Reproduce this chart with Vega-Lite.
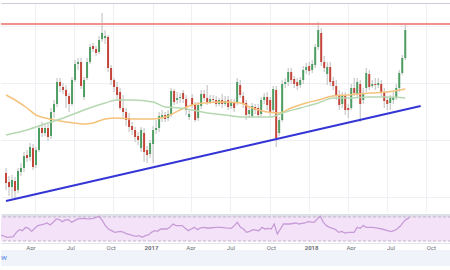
{
"$schema":"https://vega.github.io/schema/vega-lite/v6.json",
"background":"white",
"padding":{"left":0,"right":0,"top":3,"bottom":0},
"spacing":0,
"config":{"view":{"stroke":null},"font":"Roboto"},
"datasets":{
"candles":[
{"d":"2016-01-25","o":39,"c":29,"hi":44,"lo":22},
{"d":"2016-02-01","o":30,"c":25,"hi":36,"lo":16},
{"d":"2016-02-08","o":25,"c":32,"hi":37,"lo":14},
{"d":"2016-02-15","o":31,"c":21,"hi":35,"lo":12},
{"d":"2016-02-22","o":22,"c":41,"hi":44,"lo":19},
{"d":"2016-02-29","o":40,"c":44,"hi":49,"lo":36},
{"d":"2016-03-07","o":44,"c":56,"hi":60,"lo":40},
{"d":"2016-03-14","o":57,"c":54,"hi":62,"lo":50},
{"d":"2016-03-21","o":55,"c":65,"hi":69,"lo":51},
{"d":"2016-03-28","o":64,"c":45,"hi":68,"lo":42},
{"d":"2016-04-04","o":47,"c":62,"hi":65,"lo":44},
{"d":"2016-04-11","o":62,"c":84,"hi":87,"lo":60},
{"d":"2016-04-18","o":84,"c":79,"hi":90,"lo":75},
{"d":"2016-04-25","o":79,"c":84,"hi":87,"lo":76},
{"d":"2016-05-02","o":84,"c":75,"hi":88,"lo":71},
{"d":"2016-05-09","o":76,"c":100,"hi":104,"lo":73},
{"d":"2016-05-16","o":100,"c":108,"hi":112,"lo":94},
{"d":"2016-05-23","o":108,"c":130,"hi":134,"lo":105},
{"d":"2016-05-30","o":130,"c":126,"hi":134,"lo":120},
{"d":"2016-06-06","o":125,"c":122,"hi":129,"lo":118},
{"d":"2016-06-13","o":122,"c":116,"hi":127,"lo":104},
{"d":"2016-06-20","o":116,"c":108,"hi":119,"lo":100},
{"d":"2016-06-27","o":108,"c":132,"hi":135,"lo":106},
{"d":"2016-07-04","o":132,"c":148,"hi":152,"lo":130},
{"d":"2016-07-11","o":148,"c":150,"hi":154,"lo":142},
{"d":"2016-07-18","o":150,"c":126,"hi":154,"lo":123},
{"d":"2016-07-25","o":115,"c":132,"hi":135,"lo":112},
{"d":"2016-08-01","o":134,"c":150,"hi":154,"lo":132},
{"d":"2016-08-08","o":150,"c":165,"hi":168,"lo":148},
{"d":"2016-08-15","o":166,"c":163,"hi":169,"lo":160},
{"d":"2016-08-22","o":163,"c":159,"hi":166,"lo":156},
{"d":"2016-08-29","o":160,"c":172,"hi":176,"lo":158},
{"d":"2016-09-05","o":173,"c":179,"hi":199,"lo":170},
{"d":"2016-09-12","o":174,"c":176,"hi":182,"lo":168},
{"d":"2016-09-19","o":175,"c":144,"hi":177,"lo":140},
{"d":"2016-09-26","o":144,"c":132,"hi":147,"lo":127},
{"d":"2016-10-03","o":132,"c":125,"hi":134,"lo":120},
{"d":"2016-10-10","o":125,"c":117,"hi":130,"lo":112},
{"d":"2016-10-17","o":120,"c":104,"hi":124,"lo":102},
{"d":"2016-10-24","o":104,"c":100,"hi":117,"lo":94},
{"d":"2016-10-31","o":100,"c":92,"hi":104,"lo":86},
{"d":"2016-11-07","o":94,"c":85,"hi":99,"lo":80},
{"d":"2016-11-14","o":86,"c":82,"hi":90,"lo":77},
{"d":"2016-11-21","o":82,"c":75,"hi":85,"lo":70},
{"d":"2016-11-28","o":76,"c":72,"hi":80,"lo":67},
{"d":"2016-12-05","o":64,"c":82,"hi":85,"lo":60},
{"d":"2016-12-12","o":79,"c":60,"hi":84,"lo":50},
{"d":"2016-12-19","o":62,"c":57,"hi":66,"lo":49},
{"d":"2016-12-26","o":58,"c":69,"hi":72,"lo":54},
{"d":"2017-01-02","o":68,"c":82,"hi":86,"lo":49},
{"d":"2017-01-09","o":82,"c":84,"hi":92,"lo":78},
{"d":"2017-01-16","o":84,"c":96,"hi":100,"lo":80},
{"d":"2017-01-23","o":95,"c":97,"hi":102,"lo":90},
{"d":"2017-01-30","o":97,"c":93,"hi":100,"lo":90},
{"d":"2017-02-06","o":94,"c":98,"hi":102,"lo":91},
{"d":"2017-02-13","o":98,"c":121,"hi":124,"lo":95},
{"d":"2017-02-20","o":121,"c":110,"hi":123,"lo":107},
{"d":"2017-02-27","o":112,"c":114,"hi":120,"lo":108},
{"d":"2017-03-06","o":114,"c":115,"hi":119,"lo":109},
{"d":"2017-03-13","o":119,"c":113,"hi":122,"lo":109},
{"d":"2017-03-20","o":113,"c":102,"hi":117,"lo":97},
{"d":"2017-03-27","o":95,"c":98,"hi":102,"lo":92},
{"d":"2017-04-03","o":114,"c":107,"hi":118,"lo":104},
{"d":"2017-04-10","o":107,"c":92,"hi":110,"lo":90},
{"d":"2017-04-17","o":94,"c":107,"hi":110,"lo":91},
{"d":"2017-04-24","o":106,"c":118,"hi":122,"lo":103},
{"d":"2017-05-01","o":118,"c":114,"hi":122,"lo":111},
{"d":"2017-05-08","o":114,"c":110,"hi":127,"lo":107},
{"d":"2017-05-15","o":110,"c":113,"hi":117,"lo":108},
{"d":"2017-05-22","o":113,"c":112,"hi":117,"lo":109},
{"d":"2017-05-29","o":112,"c":108,"hi":116,"lo":105},
{"d":"2017-06-05","o":108,"c":112,"hi":114,"lo":106},
{"d":"2017-06-12","o":112,"c":108,"hi":118,"lo":104},
{"d":"2017-06-19","o":108,"c":111,"hi":116,"lo":106},
{"d":"2017-06-26","o":112,"c":105,"hi":116,"lo":102},
{"d":"2017-07-03","o":106,"c":110,"hi":113,"lo":103},
{"d":"2017-07-10","o":110,"c":104,"hi":113,"lo":100},
{"d":"2017-07-17","o":109,"c":130,"hi":134,"lo":107},
{"d":"2017-07-24","o":127,"c":117,"hi":132,"lo":114},
{"d":"2017-07-31","o":116,"c":108,"hi":120,"lo":104},
{"d":"2017-08-07","o":109,"c":97,"hi":112,"lo":92},
{"d":"2017-08-14","o":98,"c":102,"hi":106,"lo":94},
{"d":"2017-08-21","o":96,"c":106,"hi":109,"lo":94},
{"d":"2017-08-28","o":105,"c":102,"hi":108,"lo":98},
{"d":"2017-09-04","o":104,"c":97,"hi":108,"lo":94},
{"d":"2017-09-11","o":98,"c":112,"hi":115,"lo":96},
{"d":"2017-09-18","o":112,"c":115,"hi":119,"lo":108},
{"d":"2017-09-25","o":115,"c":107,"hi":120,"lo":102},
{"d":"2017-10-02","o":112,"c":100,"hi":115,"lo":96},
{"d":"2017-10-09","o":102,"c":123,"hi":126,"lo":100},
{"d":"2017-10-16","o":122,"c":74,"hi":126,"lo":65},
{"d":"2017-10-23","o":79,"c":92,"hi":95,"lo":76},
{"d":"2017-10-30","o":92,"c":128,"hi":132,"lo":90},
{"d":"2017-11-06","o":128,"c":130,"hi":134,"lo":124},
{"d":"2017-11-13","o":130,"c":140,"hi":144,"lo":126},
{"d":"2017-11-20","o":140,"c":132,"hi":144,"lo":128},
{"d":"2017-11-27","o":133,"c":128,"hi":136,"lo":124},
{"d":"2017-12-04","o":130,"c":126,"hi":134,"lo":122},
{"d":"2017-12-11","o":127,"c":132,"hi":135,"lo":124},
{"d":"2017-12-18","o":132,"c":142,"hi":146,"lo":128},
{"d":"2017-12-25","o":142,"c":145,"hi":149,"lo":138},
{"d":"2018-01-01","o":146,"c":141,"hi":150,"lo":137},
{"d":"2018-01-08","o":142,"c":148,"hi":152,"lo":139},
{"d":"2018-01-15","o":147,"c":165,"hi":168,"lo":144},
{"d":"2018-01-22","o":165,"c":182,"hi":190,"lo":162},
{"d":"2018-01-29","o":179,"c":150,"hi":184,"lo":146},
{"d":"2018-02-05","o":150,"c":144,"hi":156,"lo":140},
{"d":"2018-02-12","o":138,"c":145,"hi":150,"lo":127},
{"d":"2018-02-19","o":145,"c":130,"hi":150,"lo":126},
{"d":"2018-02-26","o":131,"c":126,"hi":135,"lo":122},
{"d":"2018-03-05","o":126,"c":117,"hi":132,"lo":112},
{"d":"2018-03-12","o":117,"c":107,"hi":122,"lo":102},
{"d":"2018-03-19","o":108,"c":116,"hi":120,"lo":104},
{"d":"2018-03-26","o":116,"c":102,"hi":120,"lo":97},
{"d":"2018-04-02","o":104,"c":102,"hi":108,"lo":94},
{"d":"2018-04-09","o":104,"c":124,"hi":128,"lo":102},
{"d":"2018-04-16","o":124,"c":119,"hi":134,"lo":116},
{"d":"2018-04-23","o":118,"c":130,"hi":134,"lo":114},
{"d":"2018-04-30","o":128,"c":108,"hi":132,"lo":90},
{"d":"2018-05-07","o":112,"c":119,"hi":124,"lo":108},
{"d":"2018-05-14","o":124,"c":139,"hi":144,"lo":120},
{"d":"2018-05-21","o":138,"c":125,"hi":142,"lo":122},
{"d":"2018-05-28","o":126,"c":128,"hi":132,"lo":124},
{"d":"2018-06-04","o":128,"c":127,"hi":134,"lo":122},
{"d":"2018-06-11","o":127,"c":129,"hi":134,"lo":124},
{"d":"2018-06-18","o":128,"c":120,"hi":132,"lo":116},
{"d":"2018-06-25","o":120,"c":111,"hi":124,"lo":104},
{"d":"2018-07-02","o":112,"c":108,"hi":115,"lo":102},
{"d":"2018-07-09","o":109,"c":114,"hi":117,"lo":102},
{"d":"2018-07-16","o":112,"c":115,"hi":120,"lo":108},
{"d":"2018-07-23","o":114,"c":124,"hi":128,"lo":112},
{"d":"2018-07-30","o":124,"c":139,"hi":142,"lo":120},
{"d":"2018-08-06","o":139,"c":154,"hi":157,"lo":137},
{"d":"2018-08-13","o":154,"c":182,"hi":189,"lo":152}
],
"sma":[
{"d":"2016-01-25","s":"fast","v":117},{"d":"2016-02-15","s":"fast","v":112},{"d":"2016-03-14","s":"fast","v":104},{"d":"2016-04-04","s":"fast","v":97},{"d":"2016-04-25","s":"fast","v":94},{"d":"2016-05-16","s":"fast","v":92},{"d":"2016-06-13","s":"fast","v":90},{"d":"2016-07-04","s":"fast","v":89},{"d":"2016-07-25","s":"fast","v":88},{"d":"2016-08-15","s":"fast","v":89},{"d":"2016-09-12","s":"fast","v":93},{"d":"2016-10-10","s":"fast","v":94},{"d":"2016-11-14","s":"fast","v":93},{"d":"2017-01-02","s":"fast","v":93},{"d":"2017-01-30","s":"fast","v":95},{"d":"2017-03-06","s":"fast","v":102},{"d":"2017-04-03","s":"fast","v":107},{"d":"2017-05-01","s":"fast","v":109},{"d":"2017-06-12","s":"fast","v":110},{"d":"2017-07-24","s":"fast","v":109},{"d":"2017-08-21","s":"fast","v":104},{"d":"2017-09-25","s":"fast","v":100},{"d":"2017-10-23","s":"fast","v":99},{"d":"2017-11-20","s":"fast","v":104},{"d":"2017-12-25","s":"fast","v":109},{"d":"2018-01-22","s":"fast","v":112},{"d":"2018-02-26","s":"fast","v":116},{"d":"2018-04-02","s":"fast","v":117},{"d":"2018-05-21","s":"fast","v":119},{"d":"2018-07-02","s":"fast","v":120},{"d":"2018-08-13","s":"fast","v":123},
{"d":"2016-01-25","s":"slow","v":77},{"d":"2016-03-14","s":"slow","v":82},{"d":"2016-04-25","s":"slow","v":88},{"d":"2016-06-13","s":"slow","v":95},{"d":"2016-07-25","s":"slow","v":102},{"d":"2016-09-12","s":"slow","v":109},{"d":"2016-10-10","s":"slow","v":112},{"d":"2016-11-14","s":"slow","v":112},{"d":"2017-01-02","s":"slow","v":110},{"d":"2017-01-30","s":"slow","v":105},{"d":"2017-03-06","s":"slow","v":104},{"d":"2017-04-03","s":"slow","v":102},{"d":"2017-05-08","s":"slow","v":99},{"d":"2017-06-19","s":"slow","v":97},{"d":"2017-07-24","s":"slow","v":95},{"d":"2017-08-21","s":"slow","v":95},{"d":"2017-10-02","s":"slow","v":95},{"d":"2017-10-30","s":"slow","v":99},{"d":"2017-12-11","s":"slow","v":104},{"d":"2018-01-22","s":"slow","v":109},{"d":"2018-02-26","s":"slow","v":114},{"d":"2018-04-02","s":"slow","v":114},{"d":"2018-05-21","s":"slow","v":115},{"d":"2018-07-02","s":"slow","v":115},{"d":"2018-08-13","s":"slow","v":114}
],
"rsi":[
{"d":"2016-01-25","v":40},{"d":"2016-02-08","v":36.1},{"d":"2016-02-22","v":37.2},{"d":"2016-02-29","v":44.4},{"d":"2016-03-07","v":48.9},{"d":"2016-03-14","v":47.2},{"d":"2016-03-21","v":52.8},{"d":"2016-03-28","v":51.1},{"d":"2016-04-04","v":46.1},{"d":"2016-04-11","v":51.1},{"d":"2016-04-18","v":55.6},{"d":"2016-05-02","v":58.3},{"d":"2016-05-09","v":60},{"d":"2016-05-16","v":56.7},{"d":"2016-05-23","v":61.1},{"d":"2016-05-30","v":66.7},{"d":"2016-06-06","v":65.6},{"d":"2016-06-13","v":62.2},{"d":"2016-06-20","v":65},{"d":"2016-06-27","v":65.6},{"d":"2016-07-04","v":61.1},{"d":"2016-07-11","v":63.9},{"d":"2016-07-18","v":66.7},{"d":"2016-08-01","v":67.8},{"d":"2016-08-08","v":66.7},{"d":"2016-08-15","v":66.7},{"d":"2016-08-22","v":67.8},{"d":"2016-08-29","v":69.4},{"d":"2016-09-05","v":71.1},{"d":"2016-09-12","v":63.9},{"d":"2016-09-19","v":55.6},{"d":"2016-09-26","v":50},{"d":"2016-10-03","v":47.2},{"d":"2016-10-10","v":44.4},{"d":"2016-10-24","v":46.1},{"d":"2016-10-31","v":44.4},{"d":"2016-11-07","v":41.7},{"d":"2016-11-14","v":40.6},{"d":"2016-11-21","v":38.9},{"d":"2016-11-28","v":37.8},{"d":"2016-12-05","v":38.9},{"d":"2016-12-12","v":36.1},{"d":"2016-12-19","v":38.9},{"d":"2016-12-26","v":40},{"d":"2017-01-02","v":44.4},{"d":"2017-01-09","v":47.2},{"d":"2017-01-16","v":46.1},{"d":"2017-01-23","v":50},{"d":"2017-01-30","v":50},{"d":"2017-02-06","v":50},{"d":"2017-02-13","v":52.8},{"d":"2017-02-20","v":58.3},{"d":"2017-02-27","v":55.6},{"d":"2017-03-13","v":55.6},{"d":"2017-03-20","v":51.1},{"d":"2017-03-27","v":47.2},{"d":"2017-04-03","v":50},{"d":"2017-04-10","v":52.8},{"d":"2017-04-17","v":48.9},{"d":"2017-04-24","v":51.7},{"d":"2017-05-01","v":52.8},{"d":"2017-05-08","v":51.7},{"d":"2017-05-15","v":51.7},{"d":"2017-05-29","v":52.8},{"d":"2017-06-12","v":52.8},{"d":"2017-06-19","v":51.7},{"d":"2017-07-03","v":51.1},{"d":"2017-07-10","v":55.6},{"d":"2017-07-17","v":61.1},{"d":"2017-07-24","v":52.8},{"d":"2017-07-31","v":50},{"d":"2017-08-07","v":44.4},{"d":"2017-08-14","v":46.1},{"d":"2017-08-21","v":48.9},{"d":"2017-09-04","v":47.2},{"d":"2017-09-11","v":52.8},{"d":"2017-09-18","v":50},{"d":"2017-09-25","v":51.1},{"d":"2017-10-02","v":50},{"d":"2017-10-09","v":58.3},{"d":"2017-10-16","v":41.7},{"d":"2017-10-23","v":50},{"d":"2017-10-30","v":58.3},{"d":"2017-11-13","v":58.3},{"d":"2017-11-27","v":60},{"d":"2017-12-04","v":58.3},{"d":"2017-12-18","v":60},{"d":"2017-12-25","v":62.2},{"d":"2018-01-08","v":61.1},{"d":"2018-01-15","v":66.7},{"d":"2018-01-22","v":71.1},{"d":"2018-01-29","v":61.1},{"d":"2018-02-05","v":55.6},{"d":"2018-02-12","v":52.8},{"d":"2018-02-19","v":51.1},{"d":"2018-02-26","v":48.9},{"d":"2018-03-05","v":44.4},{"d":"2018-03-12","v":46.1},{"d":"2018-03-19","v":43.3},{"d":"2018-03-26","v":44.4},{"d":"2018-04-09","v":44.4},{"d":"2018-04-16","v":52.8},{"d":"2018-04-23","v":51.1},{"d":"2018-04-30","v":55.6},{"d":"2018-05-07","v":52.8},{"d":"2018-05-21","v":52.8},{"d":"2018-06-04","v":51.1},{"d":"2018-06-11","v":50},{"d":"2018-06-25","v":47.2},{"d":"2018-07-02","v":45.6},{"d":"2018-07-09","v":47.2},{"d":"2018-07-16","v":50},{"d":"2018-07-23","v":54.4},{"d":"2018-07-30","v":61.1},{"d":"2018-08-06","v":66},{"d":"2018-08-13","v":69}
],
"trend":[{"d":"2016-01-25","v":11},{"d":"2018-09-18","v":106}],
"levels":[{"v":188}]
},
"vconcat":[
{
"width":450,"height":209,
"resolve":{"axis":{"x":"independent"}},
"layer":[
{"data":{"name":"candles"},"mark":{"type":"rule","clip":true,"color":"#bdbdbd","strokeWidth":1},
"encoding":{
"x":{"field":"d","type":"temporal","scale":{"type":"utc","nice":false,"domain":[{"year":2016,"month":1,"date":25,"utc":true},{"year":2018,"month":11,"date":16,"utc":true}]},
"axis":{"orient":"top","labels":false,"ticks":false,"domain":true,"domainColor":"#c9ccd4","domainWidth":1,"grid":true,"gridColor":"#eef0f4","title":null,
"values":[{"year":2016,"month":4,"date":1,"utc":true},{"year":2016,"month":7,"date":1,"utc":true},{"year":2016,"month":10,"date":1,"utc":true},{"year":2017,"month":1,"date":1,"utc":true},{"year":2017,"month":4,"date":1,"utc":true},{"year":2017,"month":7,"date":1,"utc":true},{"year":2017,"month":10,"date":1,"utc":true},{"year":2018,"month":1,"date":1,"utc":true},{"year":2018,"month":4,"date":1,"utc":true},{"year":2018,"month":7,"date":1,"utc":true},{"year":2018,"month":10,"date":1,"utc":true}]}},
"y":{"field":"lo","type":"quantitative","scale":{"domain":[0,209],"nice":false,"zero":false},
"axis":{"labels":false,"ticks":false,"domain":false,"grid":true,"gridColor":"#eef0f4","title":null,"values":[14.7,29,43.3,57.6,71.9,86.2,100.5,114.8,129.1,143.4,157.7,172,186.3,200.6]}},
"y2":{"field":"hi"}}},
{"data":{"name":"candles"},"mark":{"type":"bar","width":2,"clip":true},
"encoding":{
"x":{"field":"d","type":"temporal","axis":{"orient":"bottom","labels":false,"ticks":false,"grid":false,"domainColor":"#dde0e6","domainWidth":3,"offset":3,"title":null}},
"y":{"field":"o","type":"quantitative"},
"y2":{"field":"c"},
"color":{"condition":{"test":"datum.c >= datum.o","value":"#4e9d63"},"value":"#c4463a"}}},
{"data":{"name":"sma"},"mark":{"type":"line","clip":true,"strokeWidth":1.5,"interpolate":"monotone"},
"encoding":{
"x":{"field":"d","type":"temporal","axis":null},
"y":{"field":"v","type":"quantitative"},
"color":{"field":"s","type":"nominal","scale":{"domain":["fast","slow"],"range":["#f5c27c","#b6d8b1"]},"legend":null}}},
{"data":{"name":"levels"},"mark":{"type":"rule","color":"#ee928a","strokeWidth":2},
"encoding":{"y":{"field":"v","type":"quantitative"}}},
{"data":{"name":"trend"},"mark":{"type":"line","color":"#3535d6","strokeWidth":2,"clip":true},
"encoding":{"x":{"field":"d","type":"temporal","axis":null},"y":{"field":"v","type":"quantitative"}}}
]
},
{
"width":450,"height":28,
"layer":[
{"data":{"values":[{"a":30,"b":70}]},"mark":{"type":"rect","color":"#f4e3f8"},
"encoding":{"y":{"field":"a","type":"quantitative","scale":{"domain":[26.7,73.3],"nice":false,"zero":false},"axis":null},"y2":{"field":"b"}}},
{"data":{"values":[{"v":30},{"v":70}]},"mark":{"type":"rule","strokeDash":[3,2],"color":"#c4b4cc","strokeWidth":1},
"encoding":{"y":{"field":"v","type":"quantitative","scale":{"domain":[26.7,73.3],"nice":false,"zero":false}}}},
{"data":{"name":"rsi"},"mark":{"type":"line","color":"#c79bd8","strokeWidth":1.3,"clip":true},
"encoding":{
"x":{"field":"d","type":"temporal","scale":{"type":"utc","nice":false,"domain":[{"year":2016,"month":1,"date":25,"utc":true},{"year":2018,"month":11,"date":16,"utc":true}]},
"axis":{"orient":"bottom","ticks":false,"domainColor":"#e0e3eb","grid":true,"gridColor":"#eef0f4","title":null,"labelFontSize":6,"labelColor":"#6a6d78","labelPadding":1,
"labelExpr":"utcFormat(datum.value, '%m') == '01' ? utcFormat(datum.value, '%Y') : utcFormat(datum.value, '%b')",
"labelFontWeight":{"condition":{"test":"utcFormat(datum.value, '%m') == '01'","value":"bold"},"value":"normal"},
"values":[{"year":2016,"month":4,"date":1,"utc":true},{"year":2016,"month":7,"date":1,"utc":true},{"year":2016,"month":10,"date":1,"utc":true},{"year":2017,"month":1,"date":1,"utc":true},{"year":2017,"month":4,"date":1,"utc":true},{"year":2017,"month":7,"date":1,"utc":true},{"year":2017,"month":10,"date":1,"utc":true},{"year":2018,"month":1,"date":1,"utc":true},{"year":2018,"month":4,"date":1,"utc":true},{"year":2018,"month":7,"date":1,"utc":true},{"year":2018,"month":10,"date":1,"utc":true}]}},
"y":{"field":"v","type":"quantitative","scale":{"domain":[26.7,73.3],"nice":false,"zero":false}}}}
]
},
{
"width":450,"height":16,
"view":{"fill":"#f0f3fa","stroke":null},
"data":{"values":[{"t":"w","p":0}]},
"mark":{"type":"text","align":"left","baseline":"middle","color":"#5d8de8","fontSize":8},
"encoding":{"text":{"field":"t"},"x":{"field":"p","type":"quantitative","scale":{"domain":[0,1]},"axis":null}}
}
]
}
